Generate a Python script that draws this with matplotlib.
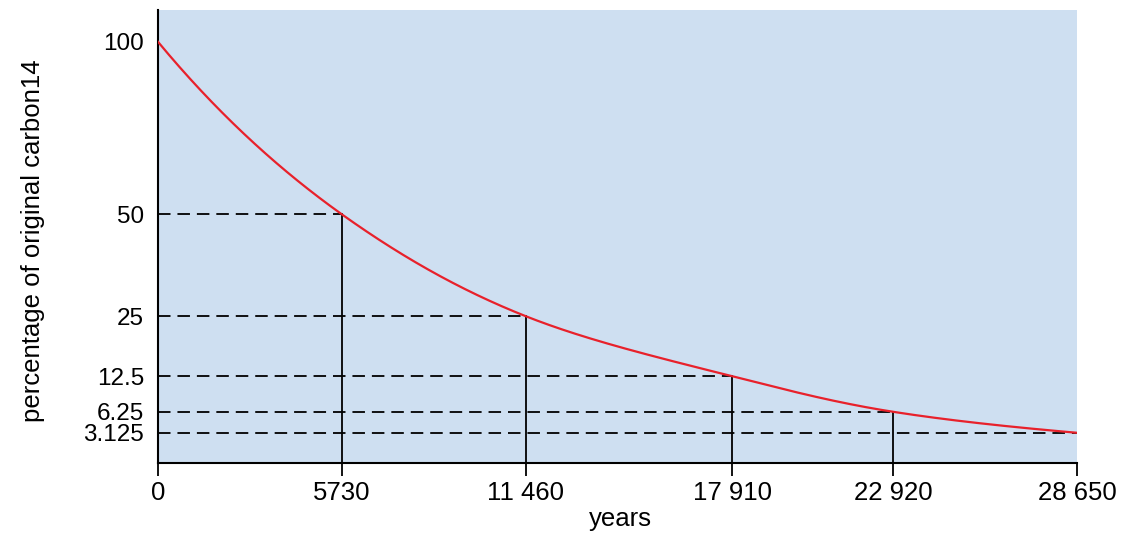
import numpy as np
import matplotlib
matplotlib.use("Agg")
import matplotlib.pyplot as plt

# Carbon-14 decay: remaining percentage after successive half-lives
years = [0, 5730, 11460, 17910, 22920, 28650]
percent = [100, 50, 25, 12.5, 6.25, 3.125]
year_labels = ["0", "5730", "11 460", "17 910", "22 920", "28 650"]
percent_labels = ["100", "50", "25", "12.5", "6.25", "3.125"]

plt.rcParams["font.family"] = ["Liberation Sans", "DejaVu Sans"]
plt.rcParams["lines.scale_dashes"] = False


def pchip(x, y, xs):
    """Monotone cubic Hermite curve through (x, y)."""
    x = np.asarray(x, float)
    y = np.asarray(y, float)
    h = np.diff(x)
    delta = np.diff(y) / h
    d = np.zeros_like(y)
    for k in range(1, len(x) - 1):
        if delta[k - 1] * delta[k] > 0:
            w1 = 2 * h[k] + h[k - 1]
            w2 = h[k] + 2 * h[k - 1]
            d[k] = (w1 + w2) / (w1 / delta[k - 1] + w2 / delta[k])
    d[0] = delta[0]
    d[-1] = delta[-1]
    idx = np.clip(np.searchsorted(x, xs) - 1, 0, len(h) - 1)
    t = (xs - x[idx]) / h[idx]
    h00 = 2 * t**3 - 3 * t**2 + 1
    h10 = t**3 - 2 * t**2 + t
    h01 = -2 * t**3 + 3 * t**2
    h11 = t**3 - t**2
    return (h00 * y[idx] + h10 * h[idx] * d[idx]
            + h01 * y[idx + 1] + h11 * h[idx] * d[idx + 1])


fig = plt.figure(figsize=(11.38, 5.33), dpi=100)
ax = fig.add_axes([0.1388, 0.1313, 0.8076, 0.8497])
ax.set_facecolor("#cedff1")

POWER = 0.76


def fwd(v):
    v = np.asarray(v, float)
    return np.sign(v) * np.abs(v) ** POWER


def inv(v):
    v = np.asarray(v, float)
    return np.sign(v) * np.abs(v) ** (1.0 / POWER)


ax.set_yscale("function", functions=(fwd, inv))
ax.set_xlim(0, years[-1])
ax.set_ylim(0, 110)

# guide lines to each half-life point
for yr, pc in zip(years[1:], percent[1:]):
    ax.plot([0, yr], [pc, pc], color="black", lw=1.3, dashes=(9, 5),
            zorder=2, solid_capstyle="butt")
for yr, pc in zip(years[1:-1], percent[1:-1]):
    ax.plot([yr, yr], [0, pc], color="black", lw=1.3, zorder=2)

# decay curve
xs = np.linspace(years[0], years[-1], 600)
ys = 2.0 ** pchip(years, np.log2(percent), xs)
ax.plot(xs, ys, color="#e8212b", lw=1.6, zorder=3)

for side in ("top", "right"):
    ax.spines[side].set_visible(False)
for side in ("left", "bottom"):
    ax.spines[side].set_linewidth(1.5)
    ax.spines[side].set_color("black")

ax.set_xticks(years)
ax.set_xticklabels(year_labels)
ax.set_yticks(percent)
ax.set_yticklabels(percent_labels)
ax.yaxis.set_minor_locator(matplotlib.ticker.NullLocator())
ax.tick_params(axis="x", direction="out", length=9, width=1.3,
               labelsize=18.5, pad=4, colors="black")
ax.tick_params(axis="y", length=0, labelsize=17.5, pad=10, colors="black")

ax.set_xlabel("years", fontsize=18.5)
ax.xaxis.set_label_coords(0.503, -0.098)
ax.set_ylabel("percentage of original carbon14", fontsize=18.5)
ax.yaxis.set_label_coords(-0.123, 0.49)

fig.savefig("out.png", dpi=100)
